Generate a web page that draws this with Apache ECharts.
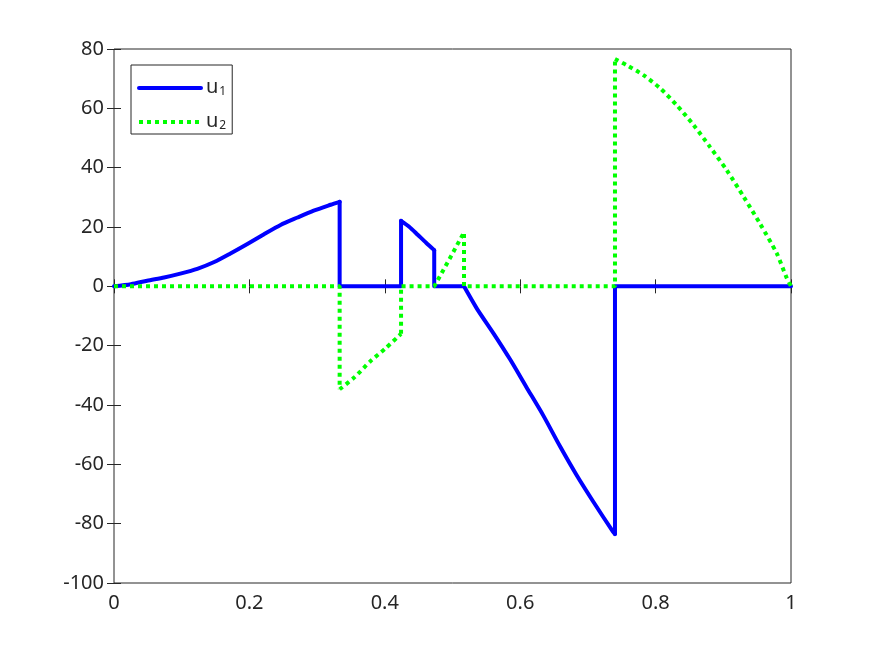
<!DOCTYPE html>
<html>
<head>
<meta charset="utf-8">
<script src="https://cdn.jsdelivr.net/npm/echarts@6/dist/echarts.min.js"></script>
<style>
html,body{margin:0;padding:0;background:#fff;}
#chart{width:875px;height:656px;}
</style>
</head>
<body>
<div id="chart"></div>
<script>
// u1 samples (x, value)
var u1X = [0, 0.025, 0.049, 0.074, 0.098, 0.123, 0.148, 0.172, 0.197, 0.221, 0.246, 0.271, 0.295, 0.320, 0.3333,
           0.3333, 0.424, 0.424, 0.436, 0.449, 0.461, 0.473, 0.473, 0.517, 0.536, 0.561, 0.585, 0.609, 0.634,
           0.659, 0.683, 0.708, 0.737, 0.740, 0.740, 1.0];
var u1Y = [0, 0.7, 1.9, 3.0, 4.3, 5.9, 8.2, 11.1, 14.3, 17.5, 20.7, 23.2, 25.5, 27.5, 28.5,
           0, 0, 22.1, 20.1, 17.3, 14.7, 12.2, 0, 0, -7.5, -16.0, -24.6, -33.9, -43.5,
           -54.0, -63.5, -72.6, -82.7, -83.5, 0, 0];
// u2 samples (x, value)
var u2X = [0, 0.3333, 0.3333, 0.356, 0.378, 0.401, 0.424, 0.424, 0.473, 0.495, 0.517, 0.517, 0.740,
           0.740, 0.757, 0.782, 0.807, 0.831, 0.856, 0.880, 0.905, 0.930, 0.954, 0.979, 0.993, 1.0];
var u2Y = [0, 0, -34.7, -30.5, -25.4, -20.9, -16.0, 0, 0, 9.0, 18.2, 0, 0,
           76.6, 74.6, 71.2, 66.7, 61.1, 54.4, 47.1, 39.2, 30.2, 21.2, 11.1, 3.2, 0];
var seriesNames = ['u1', 'u2'];
var xTicks = {min: 0, max: 1, interval: 0.2};
var yTicks = {min: -100, max: 80, interval: 20};

// index ranges of each piece: [start, end, smooth?]
var u1Pieces = [[0, 14, true], [14, 17, false], [17, 21, true], [21, 23, false], [23, 33, true], [33, 35, false]];
var u2Pieces = [[0, 2, false], [2, 6, true], [6, 13, false], [13, 25, true]];

function pairs(xs, ys, a, b) {
  var out = [];
  for (var i = a; i <= b; i++) out.push([xs[i], ys[i]]);
  return out;
}

var txt = '#262626';
var font = 'Noto Sans';
var blue = '#0000ff', green = '#00ff00';
var series = [];
u1Pieces.forEach(function (p) {
  series.push({name: seriesNames[0], type: 'line', symbol: 'none', showSymbol: false,
    smooth: p[2] ? 0.25 : false, data: pairs(u1X, u1Y, p[0], p[1]),
    lineStyle: {color: blue, width: 4, join: 'round', cap: 'round'}, itemStyle: {color: blue}, z: 2});
});
u2Pieces.forEach(function (p) {
  series.push({name: seriesNames[1], type: 'line', symbol: 'none', showSymbol: false,
    smooth: p[2] ? 0.25 : false, data: pairs(u2X, u2Y, p[0], p[1]),
    lineStyle: {color: green, width: 4, type: [4, 4], cap: 'butt'}, itemStyle: {color: green}, z: 3});
});

var chart = echarts.init(document.getElementById('chart'));
var axisCommon = {
  axisLine: {show: false},
  axisTick: {show: true, inside: true, length: 7, lineStyle: {color: txt, width: 1}},
  splitLine: {show: false}
};
chart.setOption({
  animation: false,
  backgroundColor: '#fff',
  textStyle: {fontFamily: font},
  grid: {left: 114, right: 84, top: 49, bottom: 73, show: true, borderColor: txt, borderWidth: 1, backgroundColor: 'transparent'},
  legend: {
    left: 131, top: 65, orient: 'vertical',
    padding: [3, 6, 2, 6], itemGap: 4, itemWidth: 62, itemHeight: 20, itemTextGap: 6,
    borderColor: txt, borderWidth: 1, backgroundColor: '#fff',
    lineStyle: {width: 4},
    itemStyle: {opacity: 0, borderWidth: 0},
    data: seriesNames,
    formatter: function (n) { return '{u|u}{s|' + n.slice(1) + '}'; },
    textStyle: {
      rich: {
        u: {fontSize: 20, lineHeight: 20, fontFamily: font, color: txt, verticalAlign: 'bottom', padding: [9, 0, 1, 0]},
        s: {fontSize: 12, lineHeight: 12, fontFamily: font, color: txt, verticalAlign: 'bottom', padding: [0, 0, 0, 1]}
      }
    }
  },
  xAxis: [
    Object.assign({type: 'value', position: 'bottom', min: xTicks.min, max: xTicks.max, interval: xTicks.interval,
      axisLabel: {color: txt, fontSize: 20, fontFamily: font, margin: 10}}, axisCommon),
    Object.assign({type: 'value', position: 'top', min: xTicks.min, max: xTicks.max, interval: xTicks.interval,
      axisLabel: {show: false}}, axisCommon)
  ],
  yAxis: [
    Object.assign({type: 'value', position: 'left', min: yTicks.min, max: yTicks.max, interval: yTicks.interval,
      axisLabel: {color: txt, fontSize: 20, fontFamily: font, margin: 10}}, axisCommon),
    Object.assign({type: 'value', position: 'right', min: yTicks.min, max: yTicks.max, interval: yTicks.interval,
      axisLabel: {show: false}}, axisCommon)
  ],
  series: series
});
</script>
</body>
</html>
